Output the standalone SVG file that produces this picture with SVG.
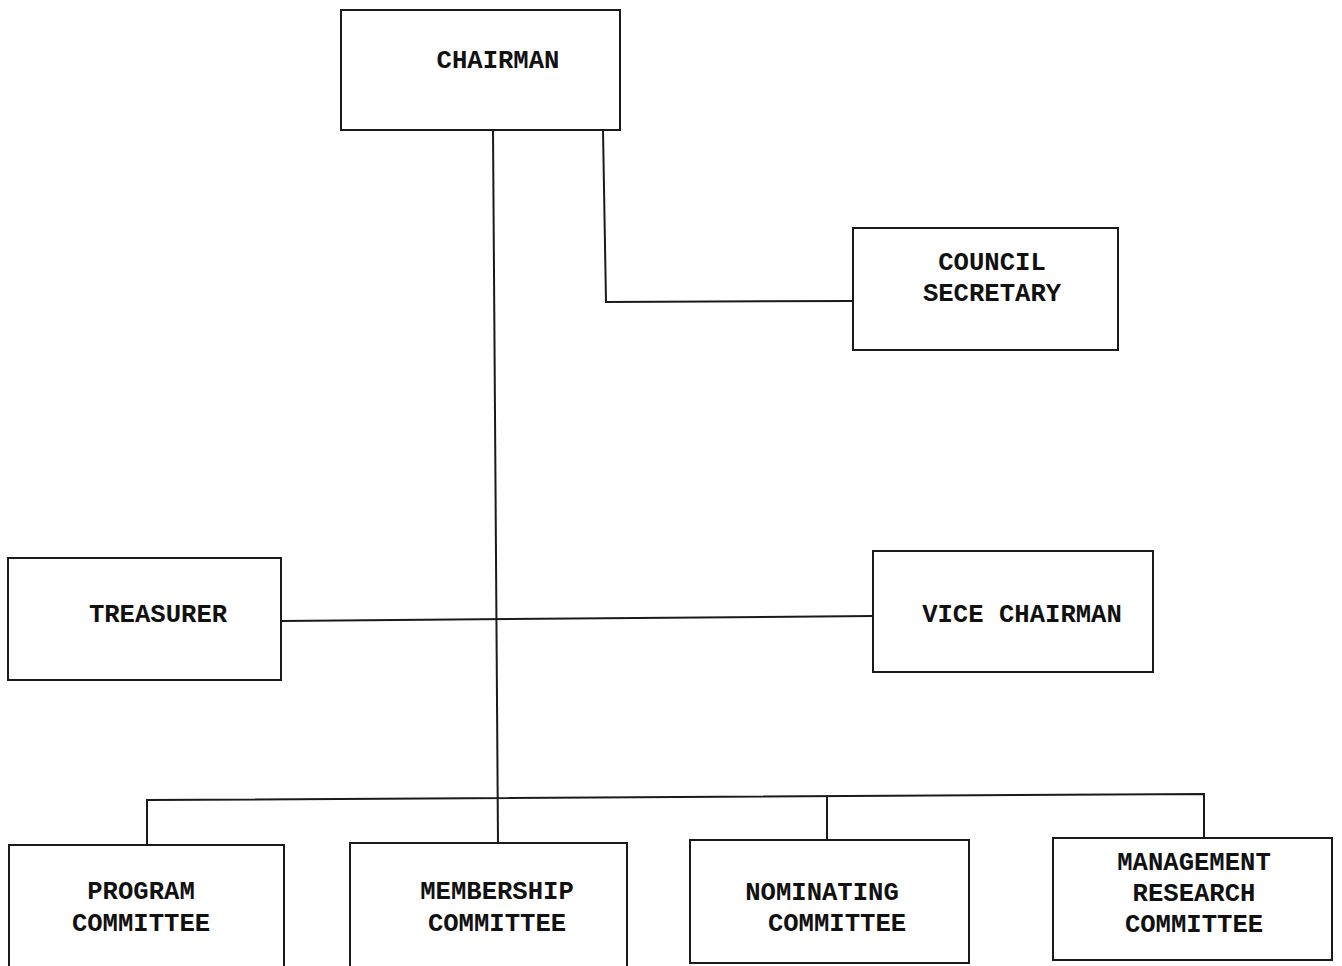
<svg xmlns="http://www.w3.org/2000/svg" width="1342" height="966" viewBox="0 0 1342 966">
<style>
.box{fill:#fff;stroke:#1a1a1a;stroke-width:2}
.ln{fill:none;stroke:#1a1a1a;stroke-width:2}
text{font-family:"Liberation Mono","Courier New",monospace;font-weight:bold;font-size:25.6px;fill:#111;text-anchor:middle}
</style>
<rect width="1342" height="966" fill="#fff"/>
<g id="connectors">
<polyline class="ln" points="493,130 498,843"/>
<polyline class="ln" points="603,130 606,302 853,301"/>
<polyline class="ln" points="281,621 873,616"/>
<polyline class="ln" points="147,845 147,800 1204,794 1204,838"/>
<line class="ln" x1="827" y1="797" x2="827" y2="840"/>
</g>
<g id="chairman"><rect class="box" x="341" y="10" width="279" height="120"/><text x="498" y="68">CHAIRMAN</text></g>
<g id="council-secretary"><rect class="box" x="853" y="228" width="265" height="122"/><text x="992" y="270">COUNCIL</text><text x="992" y="301">SECRETARY</text></g>
<g id="treasurer"><rect class="box" x="8" y="558" width="273" height="122"/><text x="158" y="622">TREASURER</text></g>
<g id="vice-chairman"><rect class="box" x="873" y="551" width="280" height="121"/><text x="1022" y="622">VICE CHAIRMAN</text></g>
<g id="program-committee"><rect class="box" x="9" y="845" width="275" height="125"/><text x="141" y="899">PROGRAM</text><text x="141" y="931">COMMITTEE</text></g>
<g id="membership-committee"><rect class="box" x="350" y="843" width="277" height="127"/><text x="497" y="899">MEMBERSHIP</text><text x="497" y="931">COMMITTEE</text></g>
<g id="nominating-committee"><rect class="box" x="690" y="840" width="279" height="123"/><text x="822" y="900">NOMINATING</text><text x="837" y="931">COMMITTEE</text></g>
<g id="management-research-committee"><rect class="box" x="1053" y="838" width="279" height="122"/><text x="1194" y="870">MANAGEMENT</text><text x="1194" y="901">RESEARCH</text><text x="1194" y="932">COMMITTEE</text></g>
</svg>
